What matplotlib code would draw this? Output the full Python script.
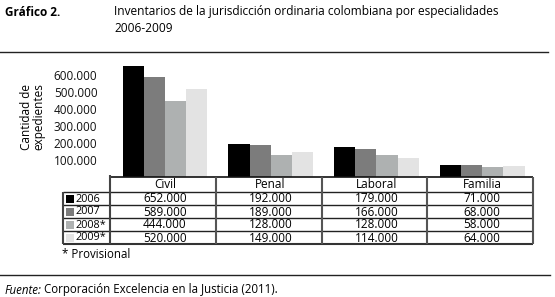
import matplotlib.pyplot as plt
from matplotlib.lines import Line2D
from matplotlib.patches import Rectangle

# Data
categories = ['Civil', 'Penal', 'Laboral', 'Familia']
years = ['2006', '2007', '2008*', '2009*']
values = [
    [652000, 192000, 179000, 71000],
    [589000, 189000, 166000, 68000],
    [444000, 128000, 128000, 58000],
    [520000, 149000, 114000, 64000],
]
colors = ['#000000', '#7c7c7c', '#aeb1b1', '#e3e3e3']
yticks = [100000, 200000, 300000, 400000, 500000, 600000]

W, H = 555, 297
plt.rcParams['font.family'] = ['Open Sans', 'DejaVu Sans']

def fmt(v):
    return f'{v:,}'.replace(',', '.')

def fx(x):
    return x / W

def fy(y):
    return 1 - y / H

fig = plt.figure(figsize=(W / 100, H / 100), dpi=100)

# Bars
ax = fig.add_axes([fx(110), fy(177), (533 - 110) / W, 117 / H])
n = len(years)
bw = 0.2
for i, (yr, row, c) in enumerate(zip(years, values, colors)):
    xs = [k + 0.02 + (i - (n - 1) / 2) * bw for k in range(len(categories))]
    ax.bar(xs, row, width=bw, color=c, linewidth=0)
ax.set_xlim(-0.5, 3.5)
ax.set_ylim(0, 688000)
ax.set_yticks(yticks)
ax.set_yticklabels([fmt(t) for t in yticks], fontsize=8.5, color='#111111')
ax.tick_params(axis='y', length=0, pad=9)
ax.set_xticks([])
for s in ['top', 'right', 'left', 'bottom']:
    ax.spines[s].set_visible(False)
ax.patch.set_alpha(0)

fig.text(fx(33), fy(117), 'Cantidad de\nexpedientes', rotation=90,
         ha='center', va='center', fontsize=8.5, linespacing=0.95)

# Table
tab = fig.add_axes([0, 0, 1, 1])
tab.set_xlim(0, W)
tab.set_ylim(H, 0)
tab.axis('off')

x0, x1 = 110, 533
xl = 63
cw = (x1 - x0) / len(categories)
col_edges = [x0 + k * cw for k in range(len(categories) + 1)]
row_edges = [177, 192, 205, 218, 231, 244]

tab.hlines(177, x0, x1, color='#111111', lw=1.2)
for y in row_edges[1:-1]:
    tab.hlines(y, xl, x1, color='#222222', lw=1)
tab.hlines(row_edges[-1], xl, x1, color='#333333', lw=1.5)
tab.vlines(xl, row_edges[1], row_edges[-1], color='#444444', lw=1.5)
tab.vlines(x0, 175, row_edges[-1], color='#444444', lw=1.5)
for xe in col_edges[1:]:
    tab.vlines(xe, 177, row_edges[-1], color='#555555', lw=1.5)

for k, cat in enumerate(categories):
    cx = (col_edges[k] + col_edges[k + 1]) / 2 + 2
    tab.text(cx, (row_edges[0] + row_edges[1]) / 2 + 0.5, cat,
             ha='center', va='center', fontsize=8.5)
    for i in range(n):
        cy = (row_edges[i + 1] + row_edges[i + 2]) / 2 + 0.5
        tab.text(cx, cy, fmt(values[i][k]), ha='center', va='center', fontsize=8.5)

for i, (yr, c) in enumerate(zip(years, colors)):
    cy = (row_edges[i + 1] + row_edges[i + 2]) / 2
    tab.add_patch(Rectangle((66, cy - 4), 8, 8, color=c, lw=0))
    tab.text(76, cy + 0.5, yr, ha='left', va='center', fontsize=7.8)

fig.text(fx(62), fy(255), '* Provisional', ha='left', va='center', fontsize=8.3)

# Header and footer
fig.text(fx(5), fy(12), 'Gráfico 2.', ha='left', va='center',
         fontsize=8.5, weight='bold')
fig.text(fx(114), fy(12),
         'Inventarios de la jurisdicción ordinaria colombiana por especialidades',
         ha='left', va='center', fontsize=8.6)
fig.text(fx(114), fy(29), '2006-2009', ha='left', va='center', fontsize=8.6)
fig.add_artist(Line2D([0, fx(548)], [fy(52), fy(52)], color='#222222', lw=1))
fig.add_artist(Line2D([0, fx(550)], [fy(275), fy(275)], color='#222222', lw=1))
fig.text(fx(5), fy(290), 'Fuente:', style='italic', ha='left', va='center', fontsize=8.3)
fig.text(fx(44), fy(290), 'Corporación Excelencia en la Justicia (2011).',
         ha='left', va='center', fontsize=8.3)

fig.savefig('out.png', dpi=100)
